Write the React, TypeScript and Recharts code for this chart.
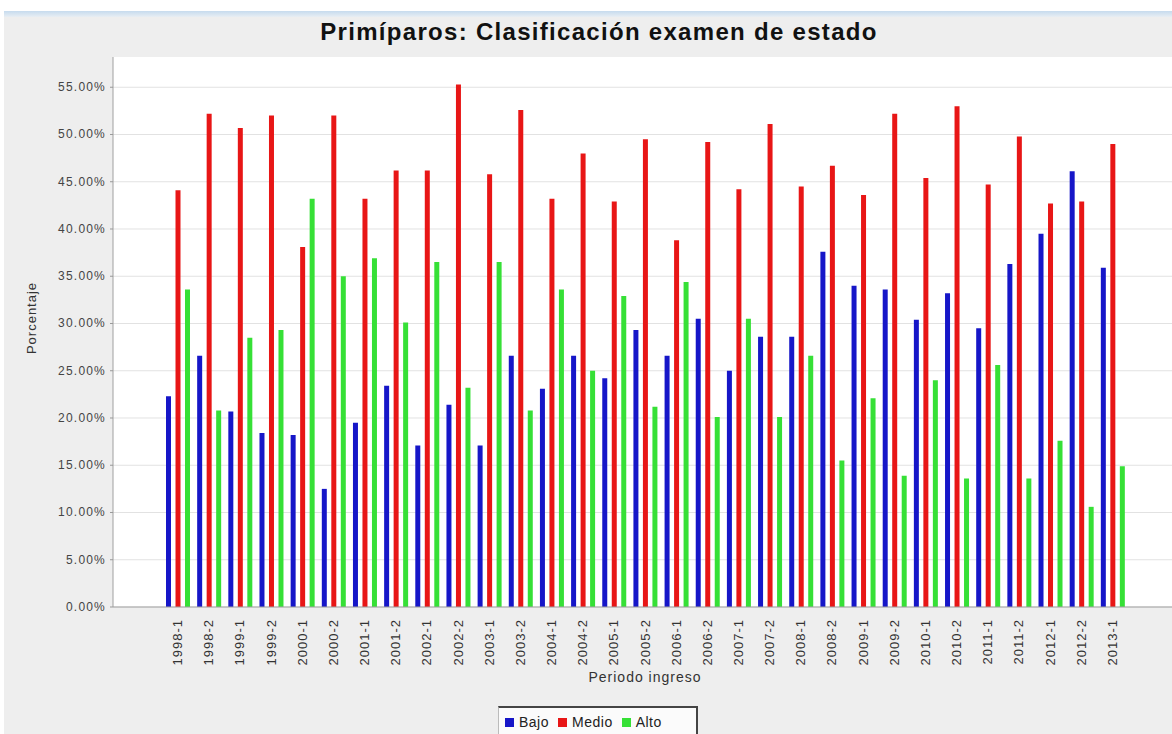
import React from 'react';
import { BarChart, Bar, XAxis, YAxis, CartesianGrid, Legend } from 'recharts';

const categories = [
  '1998-1', '1998-2', '1999-1', '1999-2', '2000-1', '2000-2', '2001-1', '2001-2',
  '2002-1', '2002-2', '2003-1', '2003-2', '2004-1', '2004-2', '2005-1', '2005-2',
  '2006-1', '2006-2', '2007-1', '2007-2', '2008-1', '2008-2', '2009-1', '2009-2',
  '2010-1', '2010-2', '2011-1', '2011-2', '2012-1', '2012-2', '2013-1',
];

const bajo = [
  22.3, 26.6, 20.7, 18.4, 18.2, 12.5, 19.5, 23.4, 17.1, 21.4, 17.1, 26.6, 23.1, 26.6, 24.2, 29.3,
  26.6, 30.5, 25.0, 28.6, 28.6, 37.6, 34.0, 33.6, 30.4, 33.2, 29.5, 36.3, 39.5, 46.1, 35.9,
];

const medio = [
  44.1, 52.2, 50.7, 52.0, 38.1, 52.0, 43.2, 46.2, 46.2, 55.3, 45.8, 52.6, 43.2, 48.0, 42.9, 49.5,
  38.8, 49.2, 44.2, 51.1, 44.5, 46.7, 43.6, 52.2, 45.4, 53.0, 44.7, 49.8, 42.7, 42.9, 49.0,
];

const alto = [
  33.6, 20.8, 28.5, 29.3, 43.2, 35.0, 36.9, 30.1, 36.5, 23.2, 36.5, 20.8, 33.6, 25.0, 32.9, 21.2,
  34.4, 20.1, 30.5, 20.1, 26.6, 15.5, 22.1, 13.9, 24.0, 13.6, 25.6, 13.6, 17.6, 10.6, 14.9,
];

const yTicks = [0, 5, 10, 15, 20, 25, 30, 35, 40, 45, 50, 55];

const seriesNames = ['Bajo', 'Medio', 'Alto'];
const seriesColors = ['#1616c8', '#e81616', '#36e036'];

const titleText = 'Primíparos: Clasificación examen de estado';
const xAxisTitle = 'Periodo ingreso';
const yAxisTitle = 'Porcentaje';

const data = categories.map((c, i) => ({
  periodo: c,
  Bajo: bajo[i],
  Medio: medio[i],
  Alto: alto[i],
}));

const FONT = '"Liberation Sans", Arial, sans-serif';

const XTick = (props: any) => {
  const { x, y, payload } = props;
  const ty = y + 4;
  return (
    <text
      x={x}
      y={ty}
      transform={`rotate(-90 ${x} ${ty})`}
      textAnchor="end"
      dominantBaseline="central"
      fontSize={13}
      letterSpacing={1}
      fontFamily={FONT}
      fill="#333"
    >
      {payload.value}
    </text>
  );
};

const YTick = (props: any) => {
  const { x, y, payload } = props;
  return (
    <text
      x={x - 2}
      y={y}
      textAnchor="end"
      dominantBaseline="central"
      fontSize={12}
      letterSpacing={1.2}
      fontFamily={FONT}
      fill="#444"
    >
      {payload.value.toFixed(2) + '%'}
    </text>
  );
};

const YLabel = () => (
  <text
    x={31}
    y={318}
    transform="rotate(-90 31 318)"
    textAnchor="middle"
    dominantBaseline="central"
    fontSize={13}
    letterSpacing={1}
    fontFamily={FONT}
    fill="#333"
  >
    {yAxisTitle}
  </text>
);

const XLabel = () => (
  <text
    x={645}
    y={677}
    textAnchor="middle"
    dominantBaseline="central"
    fontSize={14}
    letterSpacing={1}
    fontFamily={FONT}
    fill="#333"
  >
    {xAxisTitle}
  </text>
);

const LegendBox = () => (
  <div
    style={{
      boxSizing: 'border-box',
      width: 200,
      height: 30,
      borderTop: '2px solid #444',
      borderLeft: '1px solid #bbb',
      borderRight: '2px solid #444',
      background: '#fbfbfb',
      display: 'flex',
      alignItems: 'center',
      paddingLeft: 6,
      fontFamily: FONT,
      fontSize: 14,
      color: '#222',
    }}
  >
    {seriesNames.map((n, i) => (
      <div key={n} style={{ display: 'flex', alignItems: 'center', marginRight: 9 }}>
        <span
          style={{
            display: 'inline-block',
            width: 9,
            height: 9,
            background: seriesColors[i],
            marginRight: 5,
          }}
        />
        <span style={{ letterSpacing: 0.5 }}>{n}</span>
      </div>
    ))}
  </div>
);

export default function App() {
  return (
    <div
      style={{
        position: 'absolute',
        left: 0,
        top: 0,
        width: 1172,
        height: 734,
        background: '#ffffff',
        overflow: 'hidden',
      }}
    >
      <div
        style={{
          position: 'absolute',
          left: 4,
          top: 11,
          right: 0,
          bottom: 0,
          background: '#eeeeee',
        }}
      />
      <div
        style={{
          position: 'absolute',
          left: 4,
          top: 11,
          right: 0,
          height: 6,
          background: 'linear-gradient(#c6dbee, #e8eef3)',
        }}
      />
      <div
        style={{
          position: 'absolute',
          left: 0,
          width: 1198,
          top: 18,
          textAlign: 'center',
          fontFamily: FONT,
          fontWeight: 'bold',
          fontSize: 24,
          letterSpacing: 1.3,
          color: '#111',
          whiteSpace: 'nowrap',
        }}
      >
        {titleText}
      </div>
      <div style={{ position: 'absolute', left: 0, top: 0 }}>
        <BarChart
          width={1172}
          height={734}
          data={data}
          margin={{ top: 57, right: 0, bottom: 49, left: 0 }}
          barSize={5}
          barGap={4.5}
        >
          <CartesianGrid
            vertical={false}
            fill="#ffffff"
            stroke="#e2e2e2"
            horizontalValues={yTicks}
          />
          <XAxis
            xAxisId="top"
            orientation="top"
            dataKey="periodo"
            height={0}
            tick={false}
            tickLine={false}
            axisLine={{ stroke: '#a0a0a0' }}
          />
          <XAxis
            dataKey="periodo"
            interval={0}
            height={78}
            tick={<XTick />}
            tickLine={false}
            axisLine={{ stroke: '#a0a0a0' }}
            padding={{ left: 49, right: 44 }}
            label={<XLabel />}
          />
          <YAxis
            width={113}
            domain={[0, 58.2]}
            ticks={yTicks}
            allowDataOverflow
            tick={<YTick />}
            tickSize={3}
            tickLine={{ stroke: '#999' }}
            axisLine={{ stroke: '#a0a0a0' }}
            label={<YLabel />}
          />
          <Legend
            layout="horizontal"
            verticalAlign="middle"
            align="center"
            wrapperStyle={{ top: 706, left: 498, width: 200, height: 30 }}
            content={<LegendBox />}
          />
          {seriesNames.map((n, i) => (
            <Bar
              key={n}
              dataKey={n}
              fill={seriesColors[i]}
              isAnimationActive={false}
            />
          ))}
        </BarChart>
      </div>
    </div>
  );
}
